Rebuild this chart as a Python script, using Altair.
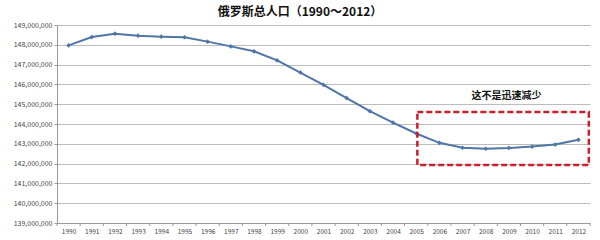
import altair as alt
import pandas as pd

years = list(range(1990, 2013))
population = [147970000, 148390000, 148560000, 148460000, 148410000, 148380000,
              148160000, 147920000, 147670000, 147210000, 146600000, 145980000,
              145310000, 144650000, 144070000, 143520000, 143050000, 142800000,
              142750000, 142790000, 142860000, 142960000, 143200000]
y_ticks = list(range(139000000, 150000000, 1000000))

title_text = ["俄罗斯总人口（1990～2012）"]
note_text = ["这不是迅速减少"]
box_x = [2005.05]
box_x2 = [2012.45]
box_y = [144600000]
box_y2 = [141930000]
note_x = [2008.9]
note_y = [145420000]

df = pd.DataFrame({"year": years, "pop": population})
bound_df = pd.DataFrame({"b": [y - 0.5 for y in years] + [years[-1] + 0.5]})
box_df = pd.DataFrame({"x": box_x, "x2": box_x2, "y": box_y, "y2": box_y2})
note_df = pd.DataFrame({"x": note_x, "y": note_y, "t": note_text})
title_df = pd.DataFrame({"t": title_text})

FONT = "Noto Sans CJK SC"

xscale = alt.Scale(domain=[1989.5, 2012.5], nice=False, zero=False)
yscale = alt.Scale(domain=[139000000, 149000000], nice=False, zero=False)

xaxis = alt.Axis(values=years, tickCount=len(years), format="d", grid=False, title=None,
                 labelFontSize=6.5, labelColor="#444", labelFont=FONT, domainColor="#999",
                 ticks=False, labelPadding=5, labelAngle=0,
                 labelOverlap=False, labelFlush=False)
yaxis = alt.Axis(values=y_ticks, tickCount=len(y_ticks), format=",d",
                 title=None, labelFontSize=7, labelColor="#444", labelFont=FONT,
                 gridColor="#bcbcbc", gridWidth=1, domainColor="#999",
                 tickColor="#999", tickSize=3, labelPadding=2, labelOverlap=False,
                 labelFlush=False)

line = alt.Chart(df).mark_line(color="#4f76a6", strokeWidth=2).encode(
    x=alt.X("year:Q", scale=xscale, axis=xaxis),
    y=alt.Y("pop:Q", scale=yscale, axis=yaxis),
)
pts = alt.Chart(df).mark_point(shape="diamond", filled=True, size=22,
                               color="#4f76a6", opacity=1).encode(
    x=alt.X("year:Q", scale=xscale),
    y=alt.Y("pop:Q", scale=yscale),
)
xticks = alt.Chart(bound_df).mark_rule(color="#999", strokeWidth=1).encode(
    x=alt.X("b:Q", scale=xscale),
    y=alt.value(198), y2=alt.value(201),
)
box = alt.Chart(box_df).mark_rect(fill=None, stroke="#c8202c", strokeWidth=2.5,
                                  strokeDash=[6, 3]).encode(
    x=alt.X("x:Q", scale=xscale), x2="x2:Q",
    y=alt.Y("y:Q", scale=yscale), y2="y2:Q",
)
note = alt.Chart(note_df).mark_text(font=FONT, fontSize=10, fontWeight="bold",
                                    color="#111").encode(
    x=alt.X("x:Q", scale=xscale),
    y=alt.Y("y:Q", scale=yscale),
    text="t:N",
)
title = alt.Chart(title_df).mark_text(font=FONT, fontSize=12, fontWeight="bold",
                                      color="#111").encode(
    x=alt.value(243), y=alt.value(-13), text="t:N",
)

chart = alt.layer(line, pts, xticks, box, note, title).properties(
    width=533, height=198,
    autosize=alt.AutoSizeParams(type="none"),
    padding={"left": 57, "top": 25, "right": 10, "bottom": 17},
    background="white",
).configure_view(stroke=None)

chart.save("out.html", embed_options={"renderer": "svg", "actions": False})
